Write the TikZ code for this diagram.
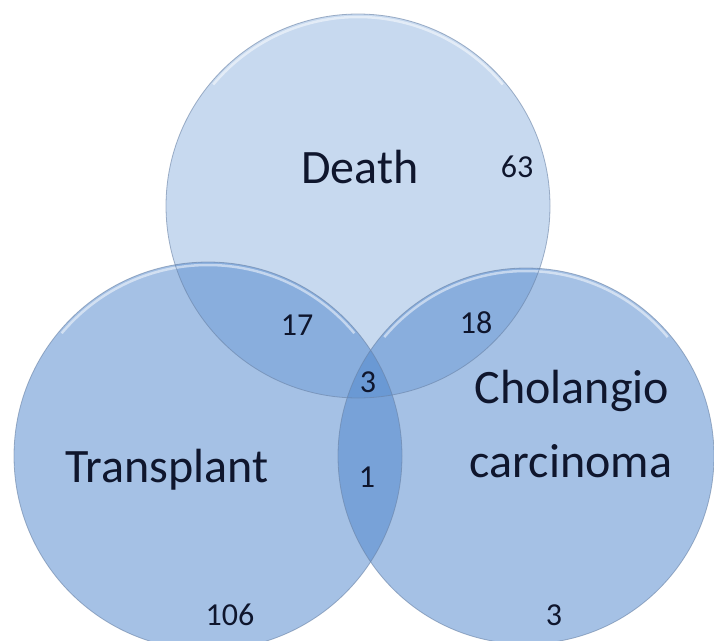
\documentclass[tikz,border=0pt]{standalone}
\usepackage{fontspec}
\setmainfont{Carlito}
\definecolor{vennbase}{RGB}{77,133,205}
\definecolor{vennedge}{RGB}{105,130,165}
\definecolor{venntext}{RGB}{15,22,45}
\tikzset{
  topset/.style={fill=vennbase, fill opacity=0.31},
  botset/.style={fill=vennbase, fill opacity=0.5},
  rim/.style={draw=vennedge, line width=0.8pt, draw opacity=0.6},
  shine/.style={draw=white, line width=2.5pt, draw opacity=0.5},
  bigtext/.style={text=venntext, anchor=base, inner sep=0pt, font=\fontsize{48}{56}\selectfont},
  numtext/.style={text=venntext, anchor=base, inner sep=0pt, font=\fontsize{32}{38}\selectfont},
}
\begin{document}
\begin{tikzpicture}[x=1pt,y=-1pt]
\useasboundingbox (0,0) rectangle (714,640);
\fill[white] (0,0) rectangle (714,640);
\coordinate (cD) at (358,206);
\coordinate (cT) at (208,456);
\coordinate (cC) at (526,456);
\begin{scope}
  \clip (0,0) rectangle (714,640);
  \fill[topset] (cD) circle[radius=192];
  \fill[botset] (cT) circle[radius=194];
  \fill[botset] (cC) circle[radius=188];
  \draw[shine] ([shift={(-40:189)}]cD) arc[start angle=-40, end angle=-140, radius=189];
  \draw[shine] ([shift={(-40:191)}]cT) arc[start angle=-40, end angle=-140, radius=191];
  \draw[shine] ([shift={(-40:185)}]cC) arc[start angle=-40, end angle=-140, radius=185];
  \draw[rim] (cD) circle[radius=192];
  \draw[rim] (cT) circle[radius=194];
  \draw[rim] (cC) circle[radius=188];
\end{scope}
\node[bigtext] (death) at (360,183) {Death};
\node[bigtext] (transplant) at (167,482) {Transplant};
\node[bigtext] (cholangio) at (572,403) {Cholangio};
\node[bigtext] (carcinoma) at (571,477) {carcinoma};
\node[numtext] (n63) at (517,177) {63};
\node[numtext] (n17) at (297,335) {17};
\node[numtext] (n18) at (476,333) {18};
\node[numtext] (n3c) at (368,392) {3};
\node[numtext] (n1) at (367,487) {1};
\node[numtext] (n106) at (230,625) {106};
\node[numtext] (n3b) at (554,625) {3};
\end{tikzpicture}
\end{document}
